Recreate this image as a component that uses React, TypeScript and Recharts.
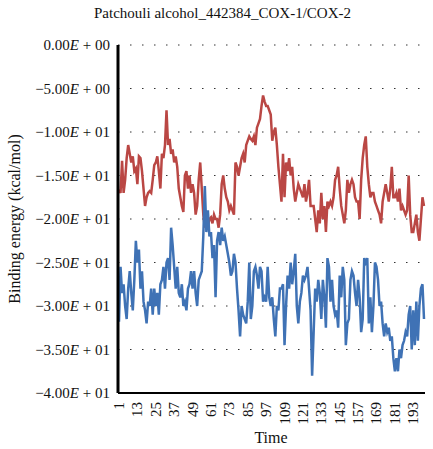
import { LineChart, Line, XAxis, YAxis, CartesianGrid, Label } from "recharts";

// time steps 1..200
const times: string[] = [];
for (let t = 1; t <= 200; t++) times.push(String(t));

const cox1Energy = [
  -16.6, -17.0, -13.3, -17.0, -15.5, -13.0, -11.5, -12.5, -13.5, -12.8,
  -14.5, -14.2, -16.0, -12.8, -13.0, -14.5, -16.5, -18.5, -17.5, -17.0,
  -16.8, -17.0, -15.5, -13.8, -13.5, -12.8, -14.5, -16.5, -12.5, -13.0,
  -11.5, -7.5, -11.5, -10.8, -12.5, -12.0, -13.5, -12.8, -14.0, -16.5,
  -17.5, -18.5, -19.2, -15.0, -14.5, -16.5, -15.0, -17.0,
  -16.0, -17.0, -19.5, -18.5, -15.5, -13.5, -16.5, -19.5, -21.0, -20.0,
  -21.0, -20.0, -19.8, -20.5, -19.5, -20.0, -20.0, -21.0, -19.5, -16.0,
  -15.0, -16.5, -17.5, -18.0, -19.0, -18.5, -19.0, -19.5, -13.5, -14.0,
  -15.0, -14.0, -13.0, -12.5, -13.5, -11.5, -11.0, -10.5, -10.8, -11.0,
  -10.5, -11.5, -9.5, -9.0, -8.5, -7.0, -5.8, -6.5, -7.0,
  -7.0, -7.5, -8.0, -11.0, -10.0, -9.5, -11.5, -14.0, -16.0, -18.0,
  -12.5, -17.5, -13.5, -14.5, -13.0, -15.0, -14.0, -16.5, -18.0, -17.0,
  -16.0, -16.5, -17.0, -17.5, -16.0, -18.0, -17.0, -15.5, -18.5, -18.5,
  -18.5, -20.0, -21.5, -19.0, -20.5, -17.0, -20.0, -18.5, -21.5, -18.0,
  -18.5, -18.0, -18.5, -17.5, -15.5, -15.0, -14.0, -16.5, -18.5,
  -19.5, -20.5, -19.0, -15.5, -17.0, -16.0, -15.5, -16.0, -17.5, -18.0,
  -18.0, -20.0, -15.5, -13.0, -11.5, -10.5, -14.0, -16.0, -17.5, -17.0,
  -17.0, -18.0, -18.5, -19.0, -19.5, -20.5, -18.0, -17.0, -16.0, -17.0,
  -18.0, -16.5, -14.0, -17.5, -17.5, -17.0, -18.0, -16.5, -19.0, -18.5,
  -19.0, -19.5, -19.0, -15.0, -19.5, -21.5, -21.5, -20.5, -19.5, -21.5,
  -22.5, -20.0, -17.5, -18.5,
];

const cox2Energy = [
  -31.8, -25.5, -28.5, -27.5, -30.0, -31.5, -28.0, -26.0, -28.5, -30.5,
  -27.0, -22.5, -25.0, -23.5, -28.0, -26.0, -29.5, -30.5, -32.0, -29.5,
  -30.0, -28.0, -31.0, -28.0, -30.0, -28.5, -31.0, -27.5, -27.0, -25.5,
  -28.0, -25.0, -24.5, -27.0, -21.0, -23.0, -25.5, -28.0, -25.5, -28.5,
  -29.0, -27.5, -30.0, -29.5, -30.5, -28.0, -27.5, -26.0,
  -28.0, -26.0, -28.5, -30.0, -27.0, -26.5, -26.0, -22.0, -16.2, -21.5,
  -19.0, -22.0, -21.5, -24.5, -23.0, -29.0, -22.5, -21.5, -23.0, -21.0,
  -22.5, -22.0, -23.0, -24.0, -25.0, -26.5, -26.0, -24.0, -25.0, -28.0,
  -30.5, -33.5, -30.0, -31.0, -31.5, -32.0, -29.5, -25.0, -31.5, -30.0,
  -26.0, -25.5, -26.5, -28.0, -25.5, -26.0, -29.5, -29.0, -29.5,
  -25.5, -29.0, -30.0, -29.0, -31.5, -33.5, -30.0, -30.5, -28.0, -28.0,
  -27.5, -34.5, -30.0, -26.5, -28.0, -25.0, -27.5, -26.0, -24.0, -30.0,
  -32.0, -29.5, -28.5, -26.5, -27.0, -26.5, -25.5, -28.0, -30.5, -38.0,
  -33.0, -28.0, -29.5, -27.0, -28.5, -31.5, -27.0, -29.0, -32.5, -24.5,
  -25.5, -29.5, -27.0, -30.0, -31.0, -30.5, -32.5, -26.5, -29.0,
  -25.5, -27.0, -34.5, -32.0, -31.5, -27.0, -26.0, -26.5, -28.5, -30.0,
  -27.0, -29.0, -33.0, -31.5, -24.5, -25.0, -24.5, -32.0, -29.0, -33.0,
  -30.0, -25.0, -25.5, -27.0, -30.0, -29.5, -32.0, -33.5, -32.0, -33.0,
  -32.5, -34.0, -33.5, -36.0, -37.5, -36.0, -37.5, -35.0, -36.0, -34.5,
  -34.0, -33.0, -33.5, -31.0, -30.0, -35.0, -30.5, -34.5, -29.5, -34.0,
  -30.0, -28.0, -27.5, -31.5,
];

const yTicks = [0, -5, -10, -15, -20, -25, -30, -35, -40];

const FONT = "'Liberation Serif', 'Times New Roman', serif";

const data = times.map((t, i) => ({ time: t, cox1: cox1Energy[i], cox2: cox2Energy[i] }));

function sci(v: number) {
  if (v === 0) return { mant: "0.00", exp: "00" };
  const exp = Math.floor(Math.log10(Math.abs(v)));
  const mant = Math.abs(v) / Math.pow(10, exp);
  return { mant: (v < 0 ? "\u2212" : "") + mant.toFixed(2), exp: String(exp).padStart(2, "0") };
}

const YTick = ({ x, y, payload }: any) => {
  const { mant, exp } = sci(payload.value);
  return (
    <text x={x} y={y} textAnchor="end" dominantBaseline="central" fontFamily={FONT} fontSize={15} fill="#111">
      {mant}
      <tspan fontStyle="italic">E</tspan>
      {` + ${exp}`}
    </text>
  );
};

const XTick = ({ x, y, payload }: any) => (
  <text
    transform={`translate(${x + 5},${y + 1}) rotate(-90)`}
    textAnchor="end"
    fontFamily={FONT}
    fontSize={15}
    fill="#111"
  >
    {payload.value}
  </text>
);

export default function App() {
  return (
    <div style={{ position: "fixed", left: 0, top: 0, width: 433, height: 449, background: "#fff" }}>
      <div
        style={{
          position: "absolute",
          top: 5,
          left: 0,
          width: 445,
          textAlign: "center",
          fontFamily: FONT,
          fontSize: 15,
          color: "#111",
        }}
      >
        Patchouli alcohol_442384_COX-1/COX-2
      </div>
      <LineChart width={433} height={449} data={data} margin={{ top: 45, right: 8, bottom: 0, left: 0 }}>
        <CartesianGrid horizontal vertical={false} stroke="#333" strokeDasharray="1.5 10.5" />
        <XAxis
          dataKey="time"
          interval={11}
          height={56}
          tickLine={false}
          axisLine={{ stroke: "#000", strokeWidth: 2 }}
          tick={<XTick />}
          padding={{ left: 1, right: 1 }}
        >
          <Label
            content={() => (
              <text x={271} y={443} textAnchor="middle" fontFamily={FONT} fontSize={16} fill="#111">
                Time
              </text>
            )}
          />
        </XAxis>
        <YAxis
          type="number"
          domain={[-40, 0]}
          ticks={yTicks}
          width={118}
          tickLine={false}
          axisLine={{ stroke: "#000", strokeWidth: 3 }}
          tick={<YTick />}
          interval={0}
        >
          <Label
            content={() => (
              <text
                x={14}
                y={219}
                transform="rotate(-90 14 219)"
                textAnchor="middle"
                dominantBaseline="central"
                fontFamily={FONT}
                fontSize={16}
                fill="#111"
              >
                Binding energy (kcal/mol)
              </text>
            )}
          />
        </YAxis>
        <Line
          type="linear"
          dataKey="cox1"
          stroke="#BA4744"
          strokeWidth={2.5}
          dot={false}
          isAnimationActive={false}
        />
        <Line
          type="linear"
          dataKey="cox2"
          stroke="#3F72B5"
          strokeWidth={2.5}
          dot={false}
          isAnimationActive={false}
        />
      </LineChart>
    </div>
  );
}
